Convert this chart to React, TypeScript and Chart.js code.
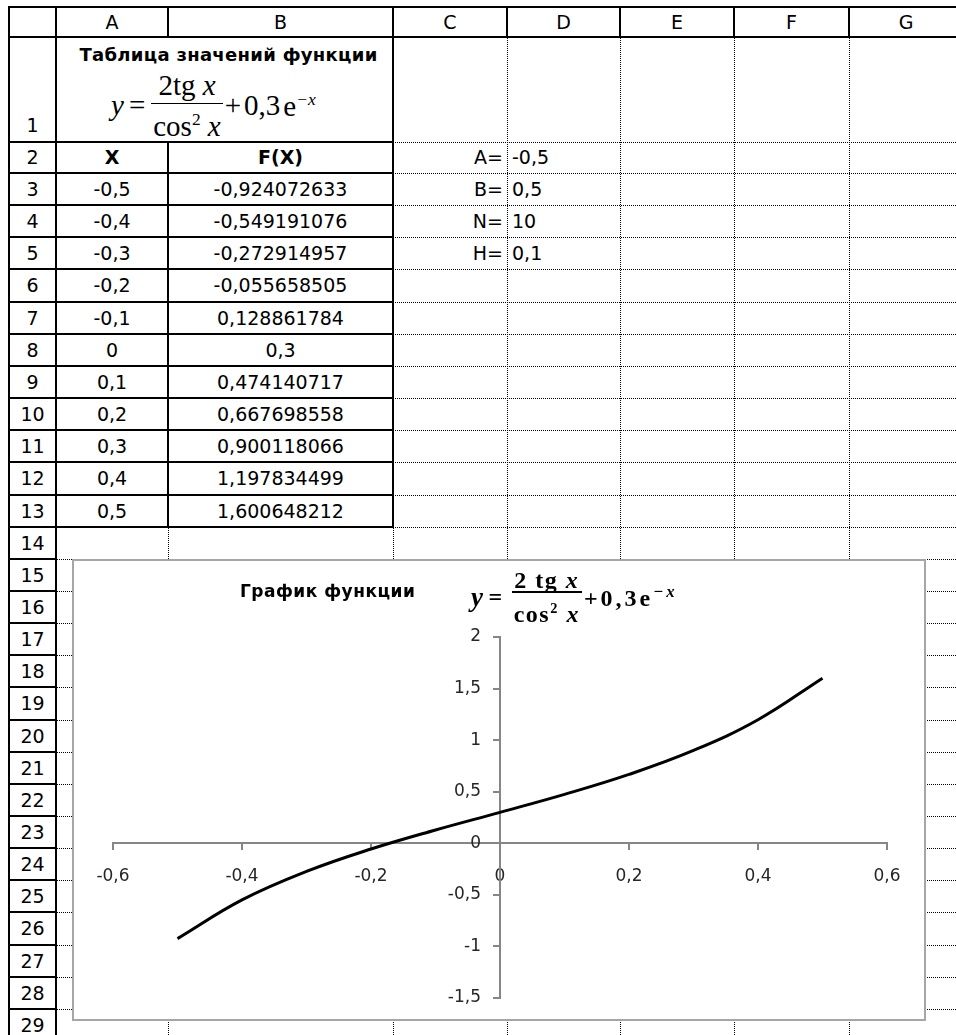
import React, { useEffect, useRef } from "react";
import { Chart, registerables } from "chart.js";

Chart.register(...registerables);

// ---- data ----
const xValues = [-0.5, -0.4, -0.3, -0.2, -0.1, 0, 0.1, 0.2, 0.3, 0.4, 0.5];
const fValues = [
  -0.924072633, -0.549191076, -0.272914957, -0.055658505, 0.128861784, 0.3,
  0.474140717, 0.667698558, 0.900118066, 1.197834499, 1.600648212,
];
const xTableLabels = ["-0,5", "-0,4", "-0,3", "-0,2", "-0,1", "0", "0,1", "0,2", "0,3", "0,4", "0,5"];
const fTableLabels = [
  "-0,924072633", "-0,549191076", "-0,272914957", "-0,055658505", "0,128861784", "0,3",
  "0,474140717", "0,667698558", "0,900118066", "1,197834499", "1,600648212",
];
const paramNames = ["A=", "B=", "N=", "H="];
const paramValues = ["-0,5", "0,5", "10", "0,1"];
const columnLetters = ["A", "B", "C", "D", "E", "F", "G"];
const xTickLabels = ["-0,6", "-0,4", "-0,2", "0", "0,2", "0,4", "0,6"];
const yTickLabels = ["-1,5", "-1", "-0,5", "0", "0,5", "1", "1,5", "2"];

// ---- sheet geometry ----
const COLS = [9, 56, 168, 393, 507, 620, 734, 849, 963];
const HEAD_TOP = 7;
const HEAD_BOTTOM = 37;
const ROW1_BOTTOM = 142;
const ROW2_BOTTOM = 173;
const ROW_H = 32.15;
const rowTop = (r: number) => (r === 1 ? HEAD_BOTTOM : r === 2 ? ROW1_BOTTOM : ROW2_BOTTOM + (r - 3) * ROW_H);
const rowBottom = (r: number) => (r === 1 ? ROW1_BOTTOM : r === 2 ? ROW2_BOTTOM : ROW2_BOTTOM + (r - 2) * ROW_H);

const SANS = '"DejaVu Sans", sans-serif';
const SERIF = '"Liberation Serif", "DejaVu Serif", serif';

type LineProps = { k: string; x1: number; x2: number; y: number; dotted?: boolean };
function hLine({ k, x1, x2, y, dotted }: LineProps) {
  return dotted ? (
    <div key={k} style={{ position: "absolute", left: x1, top: Math.round(y), width: x2 - x1, height: 0, borderTop: "1px dotted #000" }} />
  ) : (
    <div key={k} style={{ position: "absolute", left: x1, top: Math.round(y) - 1, width: x2 - x1, height: 2, background: "#000" }} />
  );
}
function vLine(k: string, x: number, y1: number, y2: number, dotted?: boolean) {
  return dotted ? (
    <div key={k} style={{ position: "absolute", left: x, top: Math.round(y1), height: Math.round(y2 - y1), width: 0, borderLeft: "1px dotted #000" }} />
  ) : (
    <div key={k} style={{ position: "absolute", left: x - 1, top: Math.round(y1), height: Math.round(y2 - y1), width: 2, background: "#000" }} />
  );
}

function cellText(k: string, x1: number, x2: number, r: number, text: React.ReactNode, align: "center" | "left" | "right" = "center", bold = false) {
  const t = rowTop(r);
  const b = rowBottom(r);
  return (
    <div
      key={k}
      style={{
        position: "absolute",
        left: x1 + (align === "left" ? 5 : 0),
        width: x2 - x1 - (align === "right" ? 4 : align === "left" ? 5 : 0),
        top: t,
        height: b - t,
        lineHeight: `${b - t}px`,
        textAlign: align,
        fontFamily: SANS,
        fontSize: 19,
        fontWeight: bold ? "bold" : "normal",
        color: "#000",
        whiteSpace: "nowrap",
      }}
    >
      {text}
    </div>
  );
}

function Frac({ num, den, lh, bar, numPad = 0, denPad = 0 }: { num: React.ReactNode; den: React.ReactNode; lh: number; bar: number; numPad?: number; denPad?: number }) {
  return (
    <span style={{ display: "inline-flex", flexDirection: "column", alignItems: "center", margin: "0 2px" }}>
      <span style={{ lineHeight: `${lh}px`, padding: `0 2px ${numPad}px 2px` }}>{num}</span>
      <span style={{ alignSelf: "stretch", height: bar, background: "#000" }} />
      <span style={{ lineHeight: `${lh}px`, padding: `${denPad}px 2px 0 2px` }}>{den}</span>
    </span>
  );
}

const yLabelPlugin = {
  id: "yLabels",
  afterDraw(chart: any) {
    const ys = chart.scales.y;
    const xs = chart.scales.x;
    const ctx = chart.ctx;
    const x0 = xs.getPixelForValue(0);
    ctx.save();
    ctx.font = '17px "DejaVu Sans"';
    ctx.fillStyle = "#262626";
    ctx.textAlign = "right";
    ctx.textBaseline = "middle";
    ys.ticks.forEach((t: any, i: number) => {
      ctx.fillText(yTickLabels[i], x0 - 19, ys.getPixelForValue(t.value));
    });
    ctx.restore();
  },
};

function FunctionChart() {
  const ref = useRef<HTMLCanvasElement>(null);
  useEffect(() => {
    if (!ref.current) return;
    const axisColor = "#868686";
    const chart = new Chart(ref.current, {
      type: "scatter",
      data: {
        datasets: [
          {
            data: xValues.map((x, i) => ({ x, y: fValues[i] })),
            showLine: true,
            borderColor: "#000",
            borderWidth: 3,
            pointRadius: 0,
            tension: 0.4,
            clip: false as any,
          },
        ],
      },
      options: {
        animation: false,
        responsive: false,
        events: [],
        layout: { padding: { left: 39, right: 37, top: 76, bottom: 22 } },
        plugins: { legend: { display: false }, tooltip: { enabled: false }, title: { display: false } },
        scales: {
          x: {
            type: "linear",
            min: -0.6,
            max: 0.6,
            position: { y: 0 } as any,
            border: { display: true, color: axisColor, width: 2 },
            grid: { drawOnChartArea: false, drawTicks: true, tickLength: 6, color: axisColor, lineWidth: 2 },
            ticks: {
              stepSize: 0.2,
              maxRotation: 0,
              autoSkip: false,
              padding: 17,
              color: "#262626",
              font: { family: "DejaVu Sans", size: 17 },
              callback: (_v: any, i: number) => xTickLabels[i],
            },
          },
          y: {
            type: "linear",
            min: -1.5,
            max: 2,
            position: { x: 0 } as any,
            border: { display: true, color: axisColor, width: 2 },
            grid: { drawOnChartArea: false, drawTicks: true, tickLength: 6, color: axisColor, lineWidth: 2 },
            ticks: { stepSize: 0.5, display: false },
          },
        },
      },
      plugins: [yLabelPlugin],
    });
    return () => chart.destroy();
  }, []);
  return <canvas ref={ref} width={850} height={459} style={{ position: "absolute", left: 0, top: 0, width: 850, height: 459 }} />;
}

export default function App() {
  const lines: React.ReactNode[] = [];
  const texts: React.ReactNode[] = [];
  const LAST_ROW = 29;

  // dotted grid (C..G everywhere, A..B from row 14)
  for (let r = 1; r <= LAST_ROW; r++) {
    const y = rowBottom(r);
    if (r <= 13) lines.push(hLine({ k: `dh${r}`, x1: COLS[3], x2: 956, y, dotted: true }));
    else lines.push(hLine({ k: `dh${r}`, x1: COLS[1], x2: 956, y, dotted: true }));
  }
  for (let c = 4; c <= 7; c++) lines.push(vLine(`dv${c}`, COLS[c], HEAD_BOTTOM, 1035, true));
  lines.push(vLine("dvB", COLS[2], rowBottom(13), 1035, true));
  lines.push(vLine("dvC", COLS[3], rowBottom(13), 1035, true));

  // header row
  lines.push(hLine({ k: "ht", x1: COLS[0] - 1, x2: 956, y: HEAD_TOP }));
  lines.push(hLine({ k: "hb", x1: COLS[0] - 1, x2: 956, y: HEAD_BOTTOM }));
  for (let c = 1; c <= 7; c++) lines.push(vLine(`hv${c}`, COLS[c], HEAD_TOP, HEAD_BOTTOM));
  // row header column
  lines.push(vLine("rl", COLS[0], HEAD_TOP, 1035));
  lines.push(vLine("rr", COLS[1], HEAD_TOP, 1035));
  for (let r = 1; r <= LAST_ROW; r++) lines.push(hLine({ k: `rh${r}`, x1: COLS[0], x2: COLS[1], y: rowBottom(r) }));
  // table A1:B13
  for (let r = 1; r <= 13; r++) lines.push(hLine({ k: `th${r}`, x1: COLS[1], x2: COLS[3], y: rowBottom(r) }));
  lines.push(vLine("tvB", COLS[2], ROW1_BOTTOM, rowBottom(13)));
  lines.push(vLine("tvC", COLS[3], HEAD_BOTTOM, rowBottom(13)));

  // header texts
  columnLetters.forEach((L, i) => {
    texts.push(
      <div key={`cl${i}`} style={{ position: "absolute", left: COLS[i + 1], width: COLS[i + 2] - COLS[i + 1], top: HEAD_TOP, height: HEAD_BOTTOM - HEAD_TOP, lineHeight: `${HEAD_BOTTOM - HEAD_TOP}px`, textAlign: "center", fontFamily: SANS, fontSize: 19 }}>{L}</div>
    );
  });
  for (let r = 1; r <= LAST_ROW; r++) {
    if (r === 1) {
      texts.push(<div key="rn1" style={{ position: "absolute", left: COLS[0], width: COLS[1] - COLS[0], top: 110, height: 30, lineHeight: "30px", textAlign: "center", fontFamily: SANS, fontSize: 19 }}>1</div>);
    } else {
      texts.push(cellText(`rn${r}`, COLS[0], COLS[1], r, String(r)));
    }
  }

  // title cell
  texts.push(
    <div key="t1" style={{ position: "absolute", left: COLS[1] - 2, width: COLS[3] - COLS[1] + 12, top: 42, textAlign: "center", fontFamily: SANS, fontWeight: "bold", fontSize: 18, letterSpacing: 0.3, lineHeight: "26px", whiteSpace: "nowrap" }}>
      Таблица значений функции
    </div>
  );
  texts.push(
    <div key="f1" style={{ position: "absolute", left: 111, top: 70, display: "flex", alignItems: "center", fontFamily: SERIF, fontSize: 29, whiteSpace: "nowrap" }}>
      <i>y</i>
      <span style={{ margin: "0 4px 0 5px" }}>=</span>
      <Frac lh={30} bar={1} numPad={3} num={<>2tg <i>x</i></>} den={<>cos<sup style={{ fontSize: "0.6em" }}>2</sup> <i>x</i></>} />
      <span>+</span>
      <span style={{ marginLeft: 3 }}>0,3</span>
      <span style={{ marginLeft: 3 }}>e<sup style={{ fontSize: "0.6em" }}><i>−x</i></sup></span>
    </div>
  );

  texts.push(cellText("hx", COLS[1], COLS[2], 2, "X", "center", true));
  texts.push(cellText("hf", COLS[2], COLS[3], 2, "F(X)", "center", true));
  xTableLabels.forEach((s, i) => {
    texts.push(cellText(`x${i}`, COLS[1], COLS[2], i + 3, s));
    texts.push(cellText(`f${i}`, COLS[2], COLS[3], i + 3, fTableLabels[i]));
  });
  paramNames.forEach((s, i) => {
    texts.push(cellText(`pn${i}`, COLS[3], COLS[4], i + 2, s, "right"));
    texts.push(cellText(`pv${i}`, COLS[4], COLS[5], i + 2, paramValues[i], "left"));
  });

  return (
    <div style={{ position: "absolute", left: 0, top: 0, width: 956, height: 1035, overflow: "hidden", background: "#fff" }}>
      {lines}
      {texts}
      <div style={{ position: "absolute", left: 72, top: 559, width: 854, height: 462, boxSizing: "border-box", border: "2px solid #a6a6a6", background: "#fff" }}>
        <FunctionChart />
      </div>
      <div style={{ position: "absolute", left: 240, top: 580, fontFamily: SANS, fontWeight: "bold", fontSize: 17, letterSpacing: 0.5, lineHeight: "22px", whiteSpace: "nowrap" }}>
        График функции
      </div>
      <div style={{ position: "absolute", left: 471, top: 569, display: "flex", alignItems: "center", fontFamily: SERIF, fontWeight: "bold", fontSize: 24, letterSpacing: 1.5, whiteSpace: "nowrap" }}>
        <i style={{ fontSize: 27 }}>y</i>
        <span style={{ margin: "0 6px 0 4px" }}>=</span>
        <Frac lh={22} bar={2} denPad={4} num={<>2 tg <i>x</i></>} den={<>cos<sup style={{ fontSize: "0.6em" }}>2</sup> <i>x</i></>} />
        <span style={{ letterSpacing: 3 }}>+0,3e<sup style={{ fontSize: "0.7em" }}><i>−x</i></sup></span>
      </div>
    </div>
  );
}
